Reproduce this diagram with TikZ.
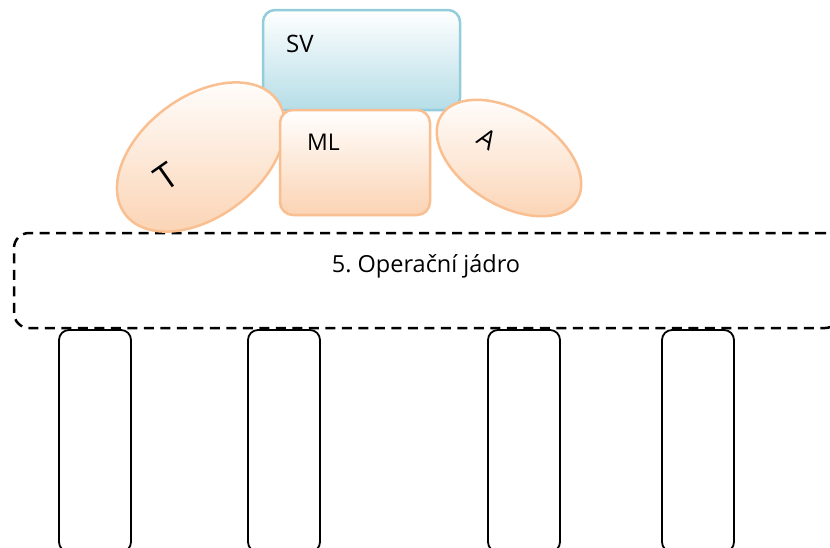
\documentclass[tikz,border=0pt]{standalone}
\usepackage{fontspec}
\setmainfont{Open Sans}
\frenchspacing
\usetikzlibrary{shapes.geometric}
\definecolor{peach}{HTML}{FBD3B3}
\definecolor{peachline}{HTML}{F9BF90}
\definecolor{bluefill}{HTML}{B5DDE7}
\definecolor{blueline}{HTML}{93CDDC}
\tikzset{
  svbox/.style={draw=blueline, line width=2.5pt, rounded corners=12pt, top color=white, bottom color=bluefill, minimum width=197pt, minimum height=100pt, inner sep=0pt},
  peachbox/.style={draw=peachline, line width=2.5pt, rounded corners=13pt, top color=white, bottom color=peach, minimum width=150pt, minimum height=105pt, inner sep=0pt},
  peachell/.style={ellipse, draw=peachline, line width=2.5pt, top color=white, bottom color=peach, inner sep=0pt},
  pillar/.style={draw=black, line width=1.8pt, rounded corners=10pt, minimum width=72pt, minimum height=222pt, inner sep=0pt},
  corebox/.style={draw=black, line width=2.5pt, dash pattern=on 10pt off 6.5pt, rounded corners=15pt, minimum width=826pt, minimum height=95pt, inner sep=0pt},
  lbl/.style={inner sep=0pt}
}
\begin{document}
\begin{tikzpicture}[x=1pt,y=-1pt]
\useasboundingbox (0,0) rectangle (830,547);
% pillars
\node[pillar] (p1) at (95,441) {};
\node[pillar] (p2) at (284,441) {};
\node[pillar] (p3) at (524,441) {};
\node[pillar] (p4) at (698,441) {};
% core
\node[corebox] (core) at (427,280.5) {};
\node[lbl, anchor=base, font=\fontsize{23.5}{27}\selectfont] (coret) at (426,272) {5. Operační jádro};
% SV
\node[svbox] (sv) at (361.5,60) {};
\node[lbl, anchor=base west, font=\fontsize{24}{28}\selectfont] (svt) at (286,52) {SV};
% T ellipse
\node[peachell, minimum width=190pt, minimum height=120pt, rotate=37] (tel) at (201,157) {};
\node[lbl, font=\fontsize{35}{40}\selectfont, rotate=35] (tt) at (166,177) {T};
% ML
\node[peachbox] (ml) at (355,162.5) {};
\node[lbl, anchor=base west, font=\fontsize{23}{27}\selectfont] (mlt) at (307,150) {ML};
% A ellipse
\node[peachell, minimum width=160pt, minimum height=94pt, rotate=-32] (ael) at (509,158) {};
\node[lbl, font=\fontsize{26}{30}\selectfont, rotate=-32] (at) at (487,139) {A};
\end{tikzpicture}
\end{document}
